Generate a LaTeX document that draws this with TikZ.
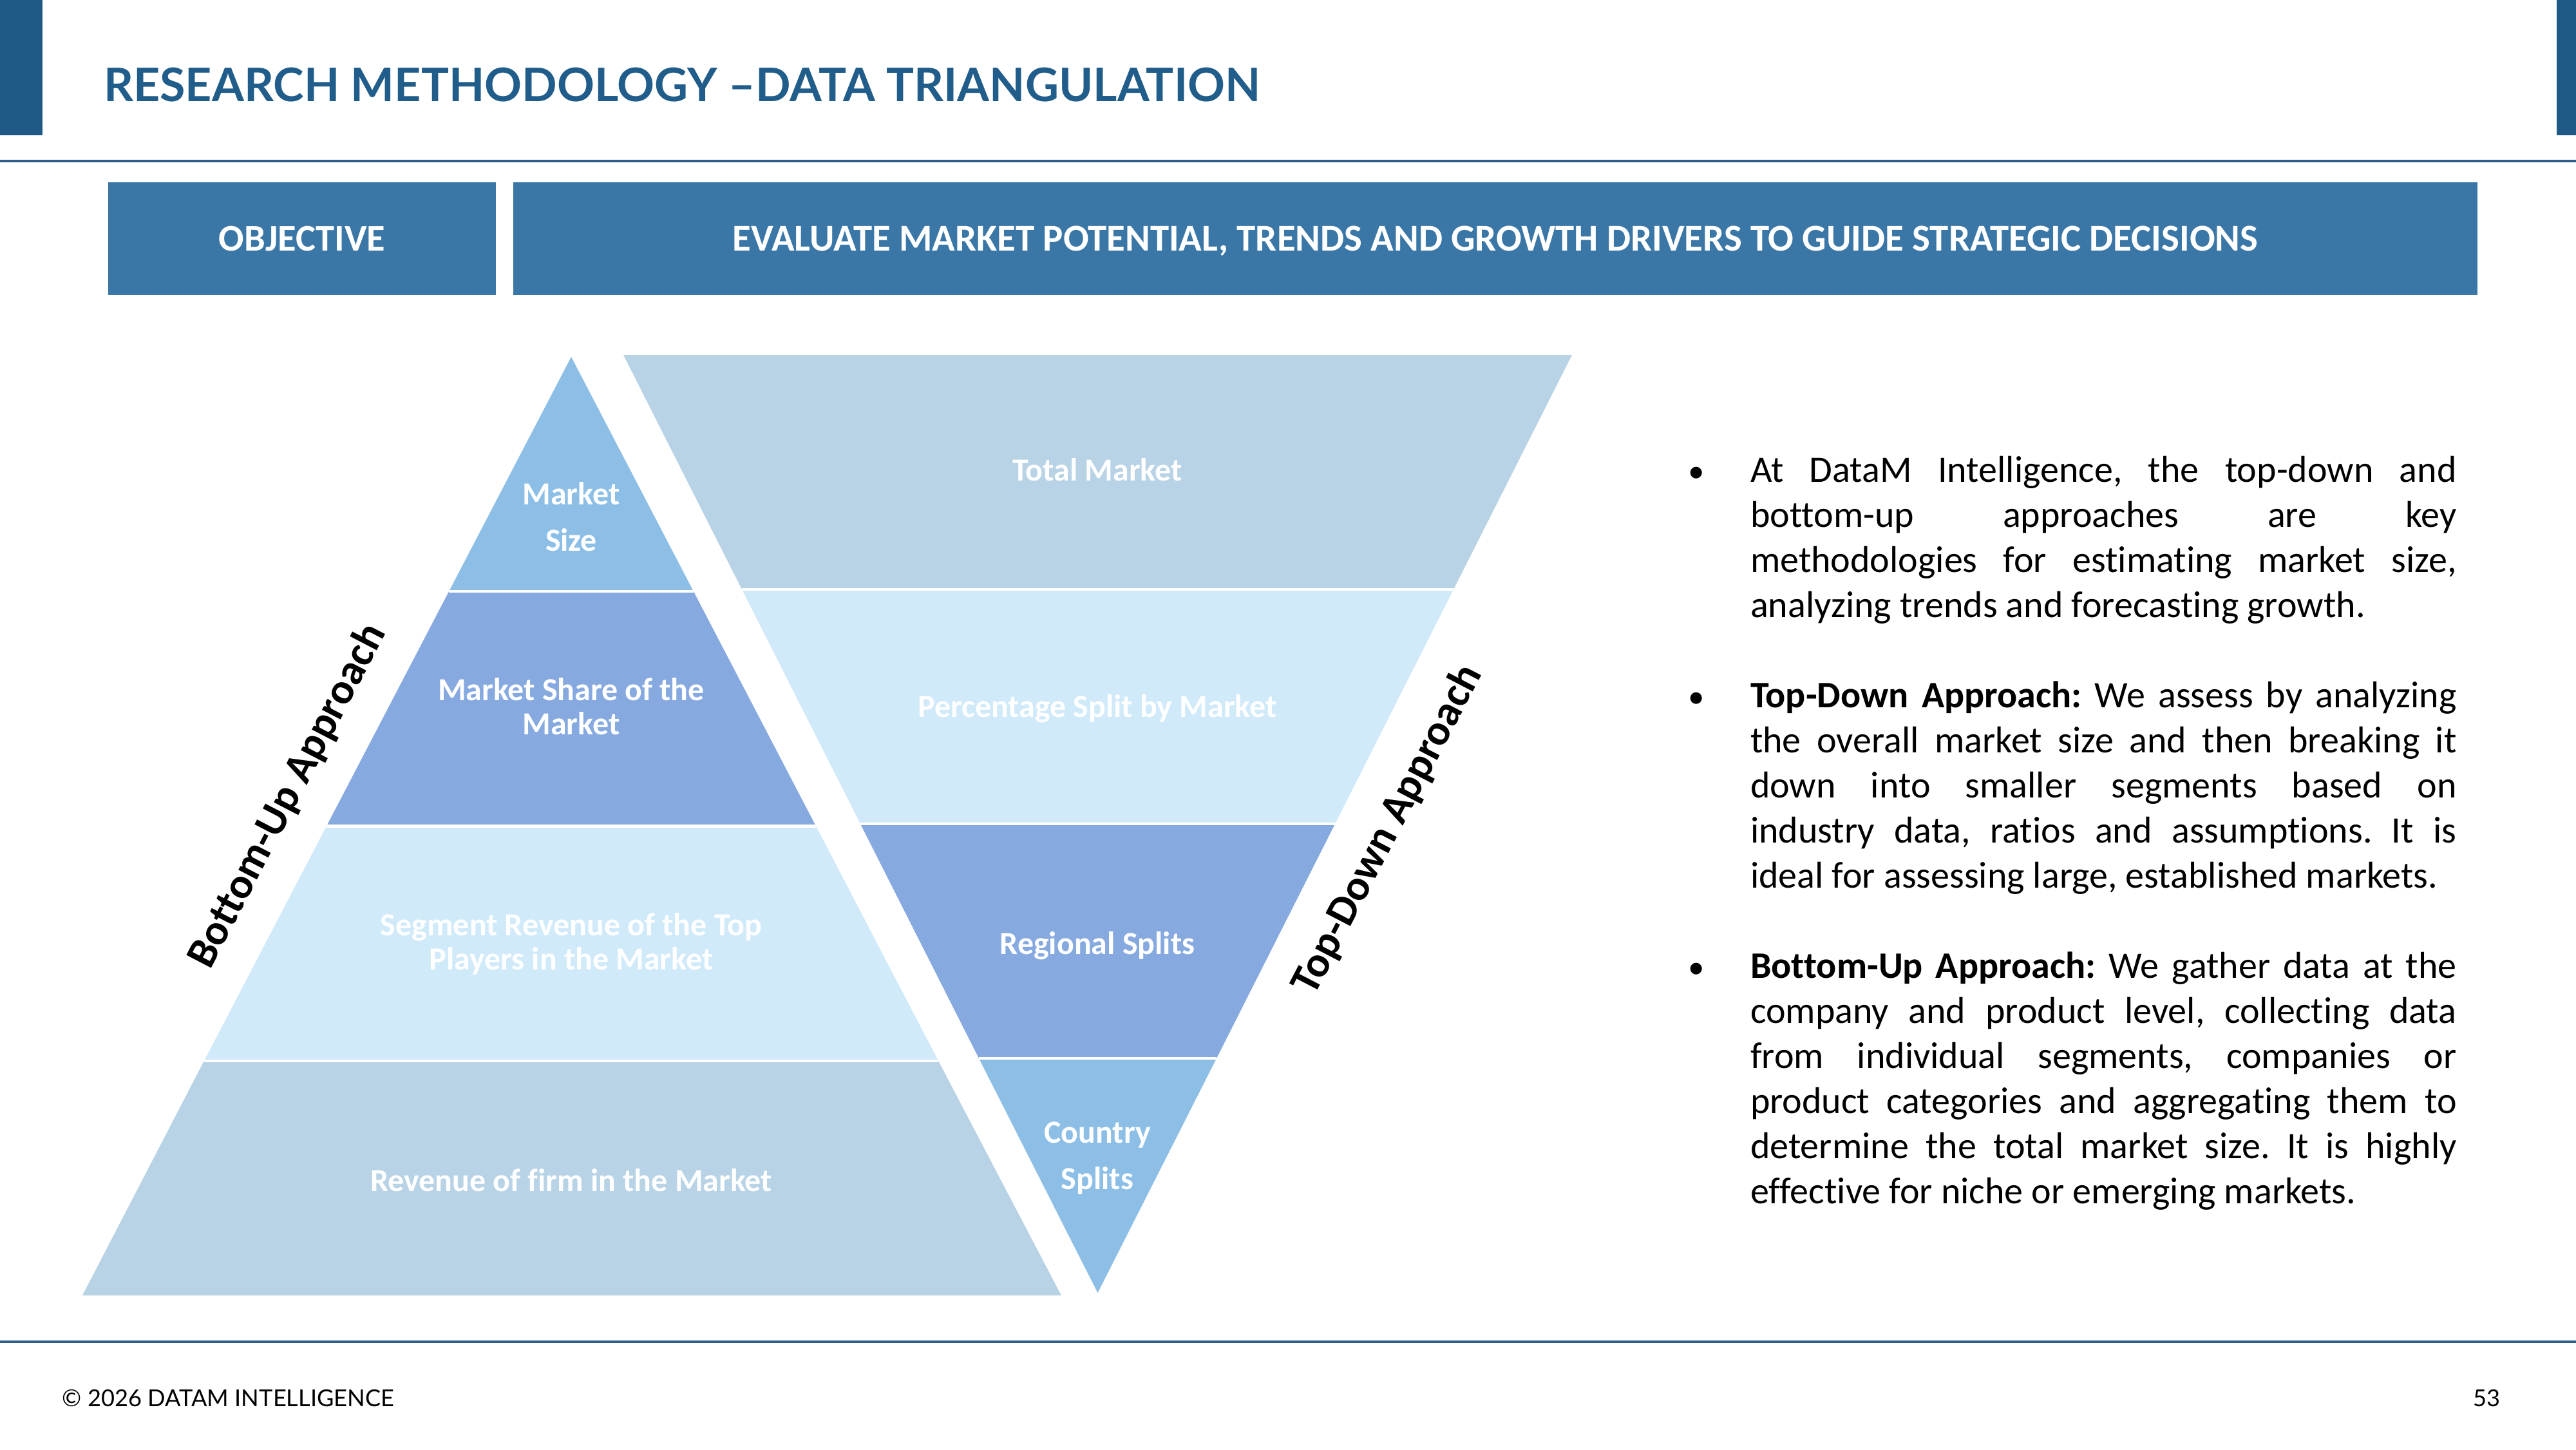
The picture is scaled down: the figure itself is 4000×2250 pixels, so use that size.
\documentclass[tikz,border=0pt]{standalone}
\usepackage{fontspec}
\setmainfont{Carlito}[Ligatures=NoCommon]
\newfontfamily\latofont{Lato}
\definecolor{navy}{HTML}{1F5A87}
\definecolor{titleblue}{HTML}{215D8A}
\definecolor{objblue}{HTML}{3A77A7}
\definecolor{lineblue}{HTML}{2E5E8B}
\definecolor{tA}{HTML}{8DBFE6}
\definecolor{tB}{HTML}{86AADF}
\definecolor{tC}{HTML}{D0EAFA}
\definecolor{tD}{HTML}{B8D3E5}
\frenchspacing
\newlength\fitw
\newcommand\fitto[3]{%
  \settowidth\fitw{#1\fontsize{10}{12}\selectfont #3}%
  \pgfmathsetmacro\fitsz{(#2*0.284528/\fitw)*10}%
  \global\let\lastfit\fitsz
  #1\fontsize{\fitsz}{\fitsz}\selectfont #3}
\tikzset{
  txt/.style={inner sep=0pt, outer sep=0pt},
  lab/.style={txt, text=white, align=center, font=\bfseries\fontsize{14.2}{15.1}\selectfont},
  labwide/.style={txt, text=white, align=center, font=\bfseries\fontsize{14.2}{20.5}\selectfont},
  approach/.style={txt, text=black, font=\bfseries\fontsize{19}{23}\selectfont},
  body/.style={txt, text=black, font=\frenchspacing\fontsize{16.5}{19.9}\selectfont},
  sep/.style={draw=white, line width=1.2pt},
  rule/.style={draw=lineblue, line width=1.1pt},
}
\newcommand\bj[3]{\node[body, anchor=base west] (#1) at (2718,#2) {\makebox[311.84pt][s]{#3}};}
\newcommand\bl[3]{\node[body, anchor=base west] (#1) at (2718,#2) {#3};}
\begin{document}
\begin{tikzpicture}[x=0.01cm,y=-0.01cm]
\useasboundingbox (0,0) rectangle (4000,2250);
\fill[white] (0,0) rectangle (4000,2250);
% header
\fill[navy] (0,0) rectangle (66,210);
\fill[navy] (3970,0) rectangle (4000,210);
\node[txt, anchor=base west, text=titleblue] (title) at (161,157)
  {\fitto{\latofont\bfseries}{1795}{RESEARCH METHODOLOGY –DATA TRIANGULATION}};
\draw[rule] (0,250) -- (4000,250);
% objective bar
\fill[objblue] (168,283) rectangle (770,458);
\fill[objblue] (797,283) rectangle (3847,458);
\node[txt, anchor=base, text=white] (obj) at (469,389)
  {\fitto{\bfseries}{258}{OBJECTIVE}};
\node[txt, anchor=base, text=white] (goal) at (2322,389)
  {\fitto{\bfseries}{2367}{EVALUATE MARKET POTENTIAL, TRENDS AND GROWTH DRIVERS TO GUIDE STRATEGIC DECISIONS}};
% pyramid
\fill[tA] (887,554) -- (1077,918.25) -- (697,918.25) -- cycle;
\fill[tB] (697,918.25) -- (1077,918.25) -- (1267,1282.5) -- (507,1282.5) -- cycle;
\fill[tC] (507,1282.5) -- (1267,1282.5) -- (1457,1646.75) -- (317,1646.75) -- cycle;
\fill[tD] (317,1646.75) -- (1457,1646.75) -- (1648,2011) -- (128,2011) -- cycle;
\draw[sep] (697,918.25) -- (1077,918.25);
\draw[sep] (507,1282.5) -- (1267,1282.5);
\draw[sep] (317,1646.75) -- (1457,1646.75);
% inverted triangle
\fill[tD] (968,551) -- (2441,551) -- (2257,915) -- (1152,915) -- cycle;
\fill[tC] (1152,915) -- (2257,915) -- (2073,1279) -- (1336,1279) -- cycle;
\fill[tB] (1336,1279) -- (2073,1279) -- (1889,1643) -- (1520,1643) -- cycle;
\fill[tA] (1520,1643) -- (1889,1643) -- (1704.5,2007) -- cycle;
\draw[sep] (1152,915) -- (2257,915);
\draw[sep] (1336,1279) -- (2073,1279);
\draw[sep] (1520,1643) -- (1889,1643);
% labels
\node[labwide] (ms) at (887,802) {Market\\Size};
\node[lab] (share) at (887,1097) {Market Share of the\\Market};
\node[lab] (seg) at (887,1465) {Segment Revenue of the Top\\Players in the Market};
\node[lab] (rev) at (887,1832) {Revenue of firm in the Market};
\node[lab] (total) at (1704,729) {Total Market};
\node[lab] (pct) at (1704,1100) {Percentage Split by Market};
\node[lab] (reg) at (1704,1468) {Regional Splits};
\node[labwide] (ctry) at (1704,1798) {Country\\Splits};
\node[approach, rotate=62.5] (bu) at (447,1236) {Bottom-Up Approach};
\node[approach, rotate=62.5] (td) at (2155,1288) {Top-Down Approach};
% bullets
\foreach \yy/\nm in {748/b1,1098/b2,1518/b3}
  \node[body, anchor=base, font=\fontsize{14.5}{16}\selectfont] (\nm) at (2634,\yy) {•};
\bj{p1a}{748}{At DataM Intelligence, the top-down and}
\bj{p1b}{818}{bottom-up approaches are key}
\bj{p1c}{888}{methodologies for estimating market size,}
\bl{p1d}{958}{analyzing trends and forecasting growth.}
\bj{p2a}{1098}{\textbf{Top-Down Approach:} We assess by analyzing}
\bj{p2b}{1168}{the overall market size and then breaking it}
\bj{p2c}{1238}{down into smaller segments based on}
\bj{p2d}{1308}{industry data, ratios and assumptions. It is}
\bl{p2e}{1378}{ideal for assessing large, established markets.}
\bj{p3a}{1518}{\textbf{Bottom-Up Approach:} We gather data at the}
\bj{p3b}{1588}{company and product level, collecting data}
\bj{p3c}{1658}{from individual segments, companies or}
\bj{p3d}{1728}{product categories and aggregating them to}
\bj{p3e}{1798}{determine the total market size. It is highly}
\bl{p3f}{1868}{effective for niche or emerging markets.}
% footer
\draw[rule] (0,2083) -- (4000,2083);
\node[txt, anchor=base west] (copy) at (97,2183)
  {\fitto{\latofont}{515}{© 2026 DATAM INTELLIGENCE}};
\node[txt, anchor=base east] (page) at (3882,2183)
  {\latofont\fontsize{\lastfit}{\lastfit}\selectfont 53};
\end{tikzpicture}
\end{document}
